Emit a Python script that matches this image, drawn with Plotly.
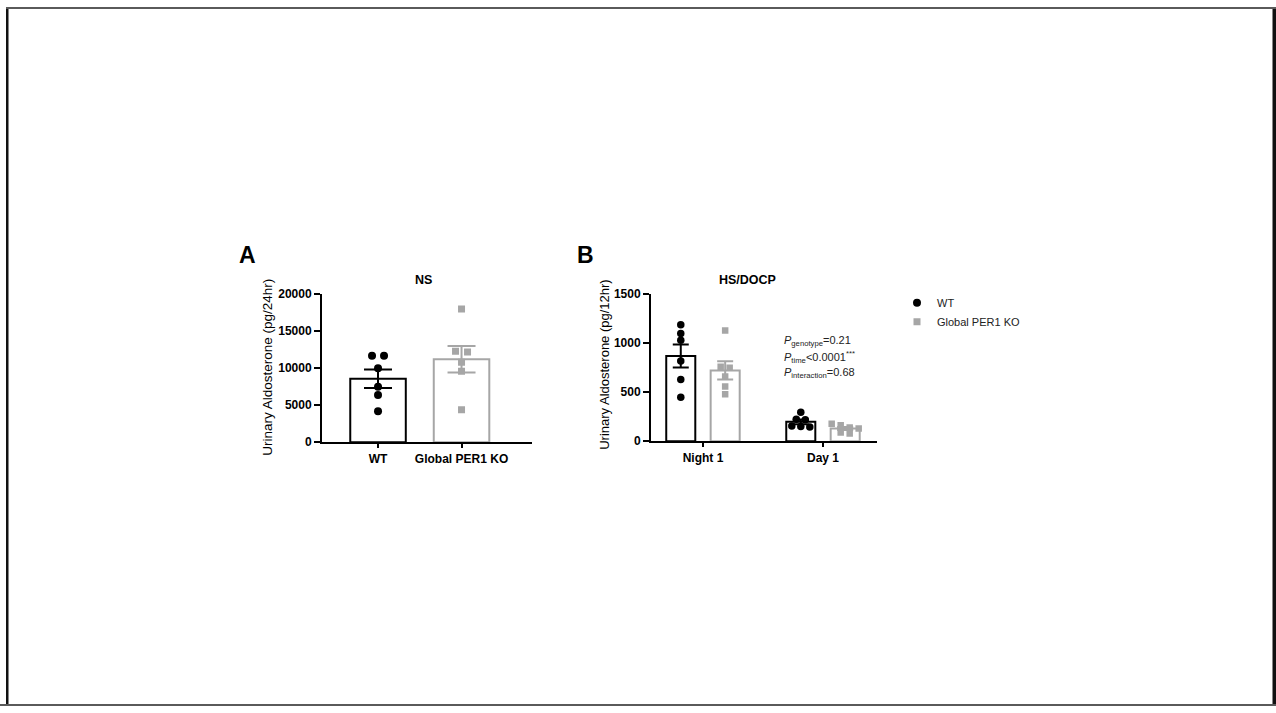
import numpy as np
import plotly.graph_objects as go

# ---- Panel A: normal salt, urinary aldosterone per 24 h ----
a_groups = ["WT", "Global PER1 KO"]
a_wt = [11700, 11700, 10000, 7500, 6400, 4200]
a_ko = [18000, 12300, 12200, 10800, 9600, 4400]
a_yticks = [0, 5000, 10000, 15000, 20000]

# ---- Panel B: high salt / DOCP, urinary aldosterone per 12 h ----
b_periods = ["Night 1", "Day 1"]
b_wt = [[1190, 1100, 1030, 820, 630, 450],
        [297, 225, 220, 155, 150, 145]]
b_ko = [[1130, 760, 750, 660, 560, 480],
        [180, 165, 140, 130, 90, 80]]
b_yticks = [0, 500, 1000, 1500]

series_names = ["WT", "Global PER1 KO"]
p_text = ["<i>P</i><sub>genotype</sub>=0.21",
          "<i>P</i><sub>time</sub><0.0001<sup>***</sup>",
          "<i>P</i><sub>interaction</sub>=0.68"]

W, H = 1276, 713
BLACK = "#000000"
GREY = "#a6a6a6"
FONT = "Arial, Liberation Sans, sans-serif"


def fx(x):
    return x / W


def fy(y):
    return 1 - y / H


def mean_sem(v):
    v = np.asarray(v, float)
    return v.mean(), v.std(ddof=1) / np.sqrt(len(v))


def spread(values, ppu_y, ppu_x, diameter=7.5, step=12.0):
    """Row-wise horizontal offsets (data units): dots closer than one
    diameter to the first dot of a row share that row, centred."""
    v = np.asarray(values, float)
    order = np.argsort(-v)
    rows = []
    for i in order:
        if rows and abs(v[rows[-1][0]] - v[i]) * ppu_y < diameter:
            rows[-1].append(i)
        else:
            rows.append([i])
    off = np.zeros(len(v))
    for r in rows:
        k = len(r)
        for j, idx in enumerate(r):
            off[idx] = (j - (k - 1) / 2) * step / ppu_x
    return off


fig = go.Figure()

# ---------------- Panel A ----------------
a_xrange = [-0.671, 1.844]
a_dom_x = [fx(322), fx(532)]
a_dom_y = [fy(444), fy(293)]
a_ppx = (532 - 322) / (a_xrange[1] - a_xrange[0])
a_ppy = (444 - 293) / 20000

for i, (vals, col, sym, size) in enumerate([(a_wt, BLACK, "circle", 8),
                                             (a_ko, GREY, "square", 7)]):
    m, s = mean_sem(vals)
    fig.add_trace(go.Bar(
        x=[i], y=[m], width=0.665, xaxis="x", yaxis="y",
        marker=dict(color="white", line=dict(color=col, width=2)),
        error_y=dict(type="data", array=[s], color=col, thickness=2, width=14),
        showlegend=False, hoverinfo="skip"))
    fig.add_trace(go.Scatter(
        x=i + spread(vals, a_ppy, a_ppx), y=vals, mode="markers",
        xaxis="x", yaxis="y", name=series_names[i], legendgroup=series_names[i],
        marker=dict(color=col, symbol=sym, size=size, line=dict(width=0)),
        showlegend=True))

# ---------------- Panel B ----------------
b_xrange = [-0.433, 1.45]
b_dom_x = [fx(651), fx(877)]
b_dom_y = [fy(443), fy(293)]
b_ppx = (877 - 651) / (b_xrange[1] - b_xrange[0])
b_ppy = (443 - 293) / 1500
b_shift = [-0.185, 0.185]
b_width = 0.242

for g, (groups, col, sym, size) in enumerate([(b_wt, BLACK, "circle", 7.5),
                                               (b_ko, GREY, "square", 6.5)]):
    means, sems = zip(*[mean_sem(v) for v in groups])
    xs = [k + b_shift[g] for k in range(len(b_periods))]
    fig.add_trace(go.Bar(
        x=xs, y=list(means), width=b_width, xaxis="x2", yaxis="y2",
        marker=dict(color="white", line=dict(color=col, width=2)),
        error_y=dict(type="data", array=list(sems), color=col, thickness=2, width=8),
        showlegend=False, hoverinfo="skip"))
    for k, vals in enumerate(groups):
        fig.add_trace(go.Scatter(
            x=xs[k] + spread(vals, b_ppy, b_ppx, diameter=7, step=9), y=vals,
            mode="markers", xaxis="x2", yaxis="y2",
            legendgroup=series_names[g], showlegend=False,
            marker=dict(color=col, symbol=sym, size=size, line=dict(width=0))))

tick_font = dict(family=FONT, size=12, color=BLACK, weight="bold")
axis_common = dict(showgrid=False, zeroline=False, showline=True, linecolor=BLACK,
                   linewidth=2, ticks="outside", tickcolor=BLACK, tickwidth=2,
                   tickfont=tick_font, fixedrange=True)

fig.update_layout(
    width=W, height=H, margin=dict(l=0, r=0, t=0, b=0),
    paper_bgcolor="white", plot_bgcolor="white",
    barmode="overlay",
    font=dict(family=FONT, color=BLACK),
    xaxis=dict(domain=a_dom_x, range=a_xrange, anchor="y",
               tickvals=[0, 1], ticktext=a_groups, ticklen=4, **axis_common),
    yaxis=dict(domain=a_dom_y, range=[0, 20000], anchor="x",
               tickvals=a_yticks, ticktext=[str(t) for t in a_yticks],
               ticklen=6, **axis_common),
    xaxis2=dict(domain=b_dom_x, range=b_xrange, anchor="y2",
                tickvals=[0, 1], ticktext=b_periods, ticklen=4, **axis_common),
    yaxis2=dict(domain=b_dom_y, range=[0, 1500], anchor="x2",
                tickvals=b_yticks, ticktext=[str(t) for t in b_yticks],
                ticklen=6, **axis_common),
    legend=dict(x=fx(897), y=fy(287), xanchor="left", yanchor="top",
                font=dict(family=FONT, size=11, color="#222222"),
                bgcolor="rgba(0,0,0,0)", tracegroupgap=0),
    showlegend=True,
)

ann = []


def text(x, y, s, size, bold=False, angle=0, xanchor="center", color=BLACK):
    ann.append(dict(x=fx(x), y=fy(y), xref="paper", yref="paper", text=s,
                    showarrow=False, textangle=angle, xanchor=xanchor, yanchor="middle",
                    font=dict(family=FONT, size=size, color=color,
                              weight="bold" if bold else "normal")))


text(247, 253, "A", 23, bold=True)
text(585, 253, "B", 23, bold=True)
text(423, 278, "NS", 12.5, bold=True)
text(747, 278, "HS/DOCP", 12.5, bold=True)
text(268, 368, "Urinary Aldosterone (pg/24hr)", 13.5, angle=-90)
text(605, 365, "Urinary Aldosterone (pg/12hr)", 13, angle=-90)
for j, s in enumerate(p_text):
    text(782, 341 + 16 * j, s, 11, xanchor="left", color="#222222")
fig.update_layout(annotations=ann)

# slide frame
fig.update_layout(shapes=[
    dict(type="rect", xref="paper", yref="paper", x0=fx(6), x1=fx(8.5), y0=0, y1=1,
         fillcolor="#111111", line=dict(width=0)),
    dict(type="rect", xref="paper", yref="paper", x0=fx(1272.5), x1=1, y0=0, y1=1,
         fillcolor="#111111", line=dict(width=0)),
    dict(type="rect", xref="paper", yref="paper", x0=fx(6), x1=1, y0=fy(2), y1=1,
         fillcolor="#5a5a5a", line=dict(width=0)),
    dict(type="rect", xref="paper", yref="paper", x0=0, x1=1, y0=0, y1=fy(711),
         fillcolor="#5a5a5a", line=dict(width=0)),
])

fig.write_html("out.html", config={"displayModeBar": False})
